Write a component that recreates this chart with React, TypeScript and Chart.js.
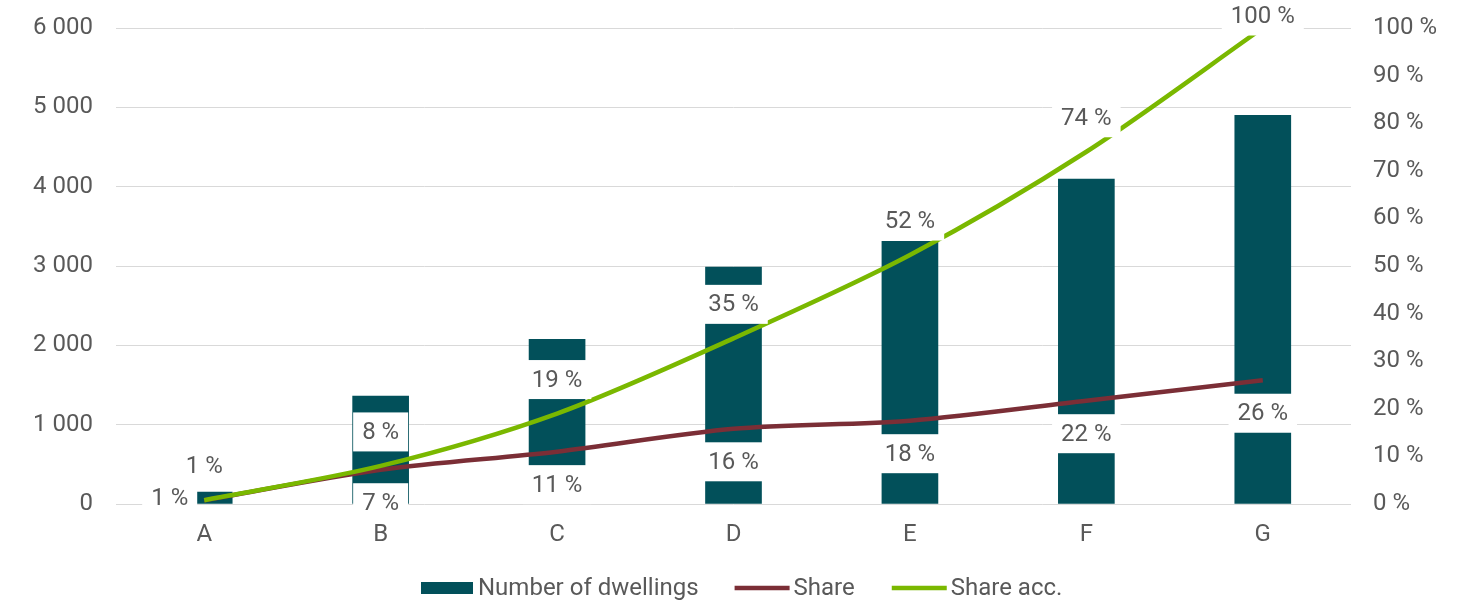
import React, { useEffect, useRef } from "react";
import { Chart, registerables } from "chart.js";

Chart.register(...registerables);

const categories = ["A", "B", "C", "D", "E", "F", "G"];
const dwellings = [150, 1360, 2075, 2985, 3310, 4095, 4900];
const share = [0.8, 7.2, 11.0, 15.8, 17.5, 21.7, 26.0];
const shareAcc = [0.8, 8.0, 19.0, 34.8, 52.3, 74.0, 100.0];
const seriesNames = ["Number of dwellings", "Share", "Share acc."];

const COLORS = {
  bar: "#02505A",
  share: "#7B2E36",
  acc: "#7AB800",
  text: "#595959",
  grid: "#D9D9D9",
};
const FONT = "Roboto";
const FS = 24;

const fmtThousands = (v: number) =>
  String(v).replace(/\B(?=(\d{3})+(?!\d))/g, " ");
const fmtPct = (v: number) => `${Math.round(v)} %`;

const labelPlugin = {
  id: "boxLabels",
  afterDatasetsDraw(chart: any) {
    const ctx = chart.ctx as CanvasRenderingContext2D;
    ctx.save();
    ctx.font = `${FS}px ${FONT}`;
    ctx.textAlign = "center";
    ctx.textBaseline = "middle";
    const drawBox = (text: string, cx: number, cy: number) => {
      const w = ctx.measureText(text).width + 18;
      const h = 39;
      ctx.fillStyle = "#ffffff";
      ctx.fillRect(cx - w / 2, cy - h / 2, w, h);
      ctx.fillStyle = COLORS.text;
      ctx.fillText(text, cx, cy + 1);
    };
    const shareMeta = chart.getDatasetMeta(1);
    const accMeta = chart.getDatasetMeta(2);
    shareMeta.data.forEach((pt: any, i: number) => {
      const t = fmtPct(share[i]);
      if (i === 0) {
        const w = ctx.measureText(t).width + 18;
        drawBox(t, pt.x - 7 - w / 2, pt.y - 2);
      } else {
        drawBox(t, pt.x, pt.y + 33);
      }
    });
    accMeta.data.forEach((pt: any, i: number) => {
      const t = fmtPct(shareAcc[i]);
      drawBox(t, pt.x, Math.max(pt.y - 34, 16));
    });
    ctx.restore();
  },
  afterDraw(chart: any) {
    const ctx = chart.ctx as CanvasRenderingContext2D;
    ctx.save();
    ctx.font = `${FS}px ${FONT}`;
    ctx.textBaseline = "middle";
    ctx.textAlign = "left";
    const y = 588;
    let x = 421;
    ctx.fillStyle = COLORS.bar;
    ctx.fillRect(x, y - 6, 52, 12);
    x += 57;
    ctx.fillStyle = COLORS.text;
    ctx.fillText(seriesNames[0], x, y + 1);
    x += ctx.measureText(seriesNames[0]).width + 36;
    const lineItem = (color: string, name: string) => {
      ctx.strokeStyle = color;
      ctx.lineWidth = 4.5;
      ctx.beginPath();
      ctx.moveTo(x, y);
      ctx.lineTo(x + 55, y);
      ctx.stroke();
      x += 59;
      ctx.fillStyle = COLORS.text;
      ctx.fillText(name, x, y + 1);
      x += ctx.measureText(name).width + 37;
    };
    lineItem(COLORS.share, seriesNames[1]);
    lineItem(COLORS.acc, seriesNames[2]);
    ctx.restore();
  },
};

export default function App() {
  const ref = useRef<HTMLCanvasElement | null>(null);
  useEffect(() => {
    document.body.style.margin = "0";
    if (!ref.current) return;
    Chart.defaults.font.family = FONT;
    const chart = new Chart(ref.current, {
      type: "bar",
      data: {
        labels: categories,
        datasets: [
          {
            type: "bar",
            label: seriesNames[0],
            data: dwellings,
            backgroundColor: COLORS.bar,
            barThickness: 56,
            yAxisID: "y",
            order: 3,
          },
          {
            type: "line",
            label: seriesNames[1],
            data: share,
            borderColor: COLORS.share,
            backgroundColor: COLORS.share,
            borderWidth: 4.5,
            pointRadius: 0,
            tension: 0.3,
            yAxisID: "y1",
            order: 2,
          },
          {
            type: "line",
            label: seriesNames[2],
            data: shareAcc,
            borderColor: COLORS.acc,
            backgroundColor: COLORS.acc,
            borderWidth: 4.5,
            pointRadius: 0,
            tension: 0.3,
            yAxisID: "y1",
            order: 1,
          },
        ] as any,
      },
      options: {
        responsive: false,
        animation: false,
        layout: { padding: { top: 28, bottom: 52, left: 0, right: 0 } },
        plugins: {
          legend: { display: false },
          tooltip: { enabled: false },
        },
        scales: {
          x: {
            grid: { display: false, drawTicks: false },
            border: { display: false },
            ticks: {
              color: COLORS.text,
              font: { size: FS, family: FONT },
              padding: 17,
            },
            afterFit: (s: any) => {
              s.height = 45;
            },
          },
          y: {
            position: "left",
            min: 0,
            max: 6000,
            ticks: {
              stepSize: 1000,
              color: COLORS.text,
              font: { size: FS, family: FONT },
              padding: 23,
              callback: (v: any) => fmtThousands(Number(v)),
            },
            grid: { color: COLORS.grid, drawTicks: false, lineWidth: 1 },
            border: { display: false },
            afterFit: (s: any) => {
              s.width = 116;
              s.paddingTop = 0;
              s.paddingBottom = 0;
            },
          },
          y1: {
            position: "right",
            min: 0,
            max: 100,
            ticks: {
              stepSize: 10,
              color: COLORS.text,
              font: { size: FS, family: FONT },
              padding: 22,
              callback: (v: any) => `${v} %`,
            },
            grid: { display: false, drawTicks: false },
            border: { display: false },
            afterFit: (s: any) => {
              s.width = 111;
              s.paddingTop = 0;
              s.paddingBottom = 0;
            },
          },
        },
      } as any,
      plugins: [labelPlugin],
    });
    return () => chart.destroy();
  }, []);
  return (
    <canvas
      ref={ref}
      width={1462}
      height={601}
      style={{ display: "block", width: 1462, height: 601 }}
    />
  );
}
